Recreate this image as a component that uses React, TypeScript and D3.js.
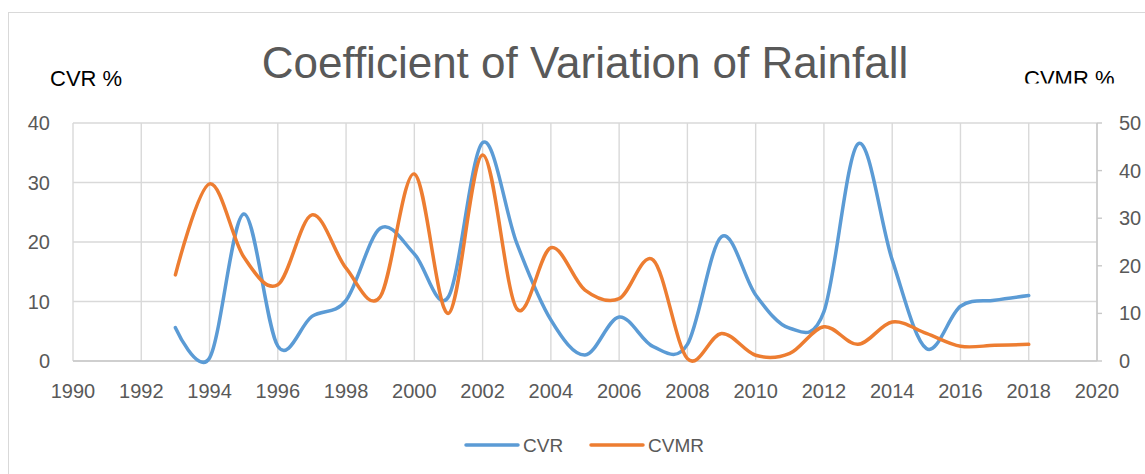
import * as d3 from 'd3'

const years = [1993, 1994, 1995, 1996, 1997, 1998, 1999, 2000, 2001, 2002, 2003, 2004, 2005,
  2006, 2007, 2008, 2009, 2010, 2011, 2012, 2013, 2014, 2015, 2016, 2017, 2018]
const cvr = [5.6, 0.5, 24.7, 2.5, 7.5, 10.2, 22.3, 18, 10.8, 36.7, 19.8, 6.9, 1.0,
  7.4, 2.4, 2.8, 20.9, 11.1, 5.5, 8.3, 36.5, 17, 2.1, 9.2, 10.2, 11.0]
const cvmr = [18.1, 37.2, 21.9, 16.0, 30.7, 19.5, 13.5, 39.3, 10.0, 43.3, 11.0, 23.8, 14.9,
  13.1, 21.2, 0.5, 5.8, 1.2, 1.6, 7.2, 3.5, 8.2, 5.8, 3.1, 3.3, 3.5]
const xTicks = [1990, 1992, 1994, 1996, 1998, 2000, 2002, 2004, 2006, 2008, 2010, 2012, 2014, 2016, 2018, 2020]
const leftTicks = [0, 10, 20, 30, 40]
const rightTicks = [0, 10, 20, 30, 40, 50]

const W = 1145
const H = 474
const plot = { left: 73, right: 1097, top: 123, bottom: 361 }
const font = '"Liberation Sans", Arial, sans-serif'
const grey = '#595959'
const gridColor = '#d9d9d9'
const blue = '#5b9bd5'
const orange = '#ed7d31'

export default function App() {
  const x = d3.scaleLinear().domain([1990, 2020]).range([plot.left, plot.right])
  const yL = d3.scaleLinear().domain([0, 40]).range([plot.bottom, plot.top])
  const yR = d3.scaleLinear().domain([0, 50]).range([plot.bottom, plot.top])

  // excel smoothed line ~ cardinal with tension 0
  const lineL = d3.line<number>()
    .x((_, i) => x(years[i]))
    .y(d => yL(d))
    .curve(d3.curveCardinal.tension(0))
  const lineR = d3.line<number>()
    .x((_, i) => x(years[i]))
    .y(d => yR(d))
    .curve(d3.curveCardinal.tension(0))

  return (
    <svg width={W} height={H} style={{ position: 'absolute', left: 0, top: 0, background: '#fff' }}>
      <defs>
        <clipPath id="cut">
          <rect x={0} y={0} width={W} height={83.5} />
        </clipPath>
      </defs>
      <rect x={8.5} y={12.5} width={W} height={H} fill="#fff" stroke="#d9d9d9" strokeWidth={1} />

      <text x={585} y={78} textAnchor="middle" fontFamily={font} fontSize={44} fill={grey}>
        Coefficient of Variation of Rainfall
      </text>
      <text x={50} y={86} fontFamily={font} fontSize={22} fill="#000">CVR %</text>
      <text x={1024} y={86} fontFamily={font} fontSize={22} fill="#000" clipPath="url(#cut)">CVMR %</text>

      {/* gridlines */}
      {leftTicks.map(t => (
        <line key={'h' + t} x1={plot.left} x2={plot.right} y1={yL(t)} y2={yL(t)} stroke={gridColor} strokeWidth={1.4} />
      ))}
      {xTicks.map(t => (
        <line key={'v' + t} x1={x(t)} x2={x(t)} y1={plot.top} y2={plot.bottom} stroke={gridColor} strokeWidth={1.4} />
      ))}
      <line x1={plot.left} x2={plot.right} y1={plot.bottom} y2={plot.bottom} stroke="#c8c8c8" strokeWidth={1.4} />
      <line x1={plot.right} x2={plot.right} y1={plot.top} y2={plot.bottom} stroke="#c8c8c8" strokeWidth={1.4} />
      {rightTicks.map(t => (
        <line key={'rt' + t} x1={plot.right} x2={plot.right + 5} y1={yR(t)} y2={yR(t)} stroke="#c8c8c8" strokeWidth={1.4} />
      ))}

      {/* tick labels */}
      {leftTicks.map(t => (
        <text key={'l' + t} x={50} y={yL(t) + 7} textAnchor="end" fontFamily={font} fontSize={20} fill={grey}>{t}</text>
      ))}
      {rightTicks.map(t => (
        <text key={'r' + t} x={1119} y={yR(t) + 7} fontFamily={font} fontSize={20} fill={grey}>{t}</text>
      ))}
      {xTicks.map(t => (
        <text key={'x' + t} x={x(t)} y={398} textAnchor="middle" fontFamily={font} fontSize={20} fill={grey}>{t}</text>
      ))}

      <path d={lineL(cvr) ?? ''} fill="none" stroke={blue} strokeWidth={3.5} strokeLinecap="round" strokeLinejoin="round" />
      <path d={lineR(cvmr) ?? ''} fill="none" stroke={orange} strokeWidth={3.5} strokeLinecap="round" strokeLinejoin="round" />

      {/* legend */}
      <line x1={466} x2={518} y1={445} y2={445} stroke={blue} strokeWidth={3.5} strokeLinecap="round" />
      <text x={523} y={452} fontFamily={font} fontSize={19} fill={grey}>CVR</text>
      <line x1={591} x2={643} y1={445} y2={445} stroke={orange} strokeWidth={3.5} strokeLinecap="round" />
      <text x={648} y={452} fontFamily={font} fontSize={19} fill={grey}>CVMR</text>
    </svg>
  )
}
